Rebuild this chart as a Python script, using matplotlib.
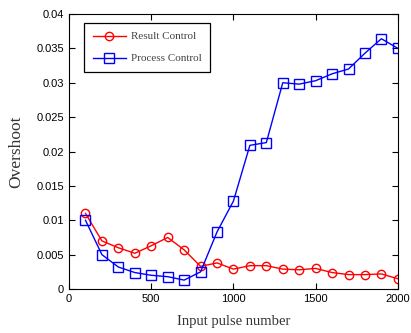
import matplotlib
matplotlib.use("Agg")
import matplotlib.pyplot as plt

pulses = [100, 200, 300, 400, 500, 600, 700, 800, 900, 1000,
          1100, 1200, 1300, 1400, 1500, 1600, 1700, 1800, 1900, 2000]
result_ctrl = [0.0110, 0.0070, 0.0060, 0.0052, 0.0063, 0.0075, 0.0057, 0.0033, 0.0038, 0.0029,
               0.0034, 0.0034, 0.0029, 0.0028, 0.0030, 0.0024, 0.0021, 0.0021, 0.0022, 0.0015]
process_ctrl = [0.0100, 0.0050, 0.0032, 0.0024, 0.0020, 0.0018, 0.0013, 0.0025, 0.0083, 0.0128,
                0.0209, 0.0213, 0.0300, 0.0298, 0.0303, 0.0313, 0.0320, 0.0343, 0.0364, 0.0350]
yticks = [0, 0.005, 0.01, 0.015, 0.02, 0.025, 0.03, 0.035, 0.04]
ytick_labels = ["0", "0.005", "0.01", "0.015", "0.02", "0.025", "0.03", "0.035", "0.04"]

fig = plt.figure(figsize=(4.11, 3.33), dpi=100)
ax = fig.add_axes([0.168, 0.132, 0.800, 0.826])

ax.plot(pulses, result_ctrl, color="red", lw=1, marker="o", ms=6,
        mfc="none", mew=1, label="Result Control")
ax.plot(pulses, process_ctrl, color="blue", lw=1, marker="s", ms=6.5,
        mfc="none", mew=1, label="Process Control")

ax.set_xlim(0, 2000)
ax.set_ylim(0, 0.04)
ax.set_xticks([0, 500, 1000, 1500, 2000])
ax.set_yticks(yticks)
ax.set_yticklabels(ytick_labels)
ax.tick_params(direction="in", top=True, right=True, labelsize=8, length=4)
for lab in ax.get_xticklabels() + ax.get_yticklabels():
    lab.set_family("Liberation Sans")

ax.set_xlabel("Input pulse number", family="Liberation Serif", fontsize=10.5,
              color="#333333", labelpad=8)
ax.set_ylabel("Overshoot", family="Liberation Serif", fontsize=12.5,
              color="#333333", labelpad=9)

leg = ax.legend(loc="upper left", prop={"family": "Liberation Serif", "size": 8},
                fancybox=False, edgecolor="black", framealpha=1,
                borderpad=0.8, labelspacing=1.1, handlelength=3.0,
                handletextpad=0.4, borderaxespad=0,
                bbox_to_anchor=(0.045, 0.968))
leg.get_frame().set_linewidth(0.9)
for t in leg.get_texts():
    t.set_color("#444444")

fig.savefig("out.png", dpi=100)
